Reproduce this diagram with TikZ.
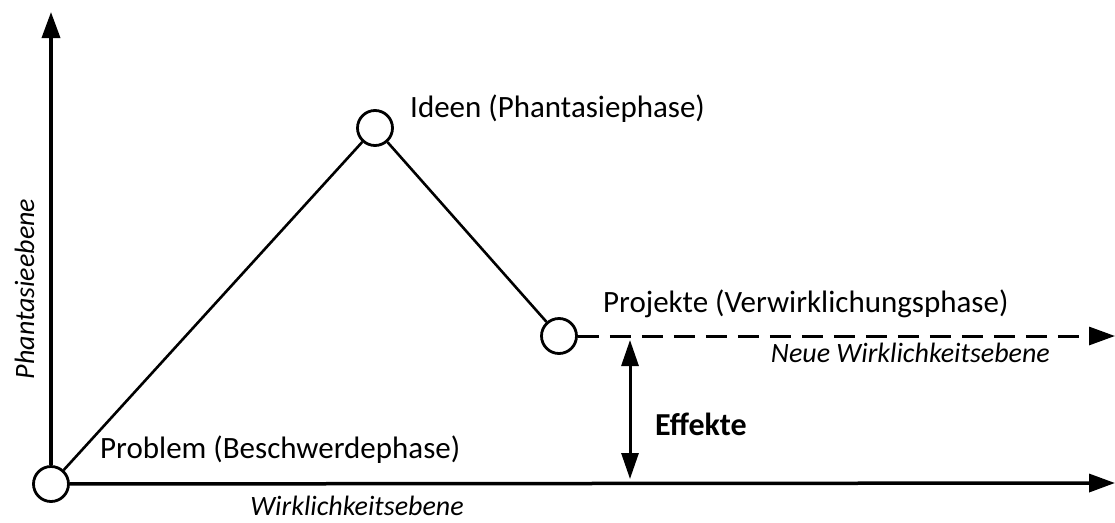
\documentclass[tikz,border=0pt]{standalone}
\usepackage{fontspec}
\setmainfont{Carlito}
\usetikzlibrary{arrows.meta}

\begin{document}
\begin{tikzpicture}[x=1pt,y=-1pt,
  phase/.style={circle,draw,line width=2.8pt,minimum size=35pt,inner sep=0pt},
  axis/.style={line width=3.5pt,-{Triangle[length=26pt,width=18pt]}},
  link/.style={line width=2.6pt},
  txt/.style={inner sep=0pt,font=\fontsize{31}{36}\selectfont},
  itxt/.style={inner sep=0pt,font=\fontsize{28}{34}\selectfont\itshape}]
\useasboundingbox (0,0) rectangle (1115,522);

% phases
\node[phase] (problem) at (51,484) {};
\node[phase] (ideen) at (375,128) {};
\node[phase] (projekte) at (559,336) {};

% axes
\coordinate (ytop) at (51,12);
\coordinate (xend) at (1115,483);
\coordinate (neuend) at (1115,336);
\draw[axis] (problem) -- (ytop);
\draw[axis] (problem) -- (xend);
\draw[axis,line width=3pt,dash pattern=on 21pt off 11pt] (projekte) -- (neuend);

% path through the phases
\draw[link] (problem) -- (ideen) -- (projekte);

% effect between the levels
\coordinate (efftop) at (630,340);
\coordinate (effbot) at (630,479);
\draw[line width=3pt,{Triangle[length=26pt,width=17pt]}-{Triangle[length=26pt,width=17pt]}] (efftop) -- (effbot);

% labels
\node[txt,anchor=base west] (lideen) at (410,117) {Ideen (Phantasiephase)};
\node[txt,anchor=base west] (lprojekte) at (603,312) {Projekte (Verwirklichungsphase)};
\node[txt,anchor=base west] (lproblem) at (100,458) {Problem (Beschwerdephase)};
\node[itxt,anchor=base east] (lneu) at (1050,362) {Neue Wirklichkeitsebene};
\node[itxt,anchor=base] (lwirk) at (357,515) {Wirklichkeitsebene};
\node[itxt,anchor=base,rotate=90] (lphan) at (34,289) {Phantasieebene};
\node[txt,anchor=base west,font=\fontsize{32}{38}\selectfont\bfseries] (leffekt) at (655,435) {Effekte};
\end{tikzpicture}
\end{document}
